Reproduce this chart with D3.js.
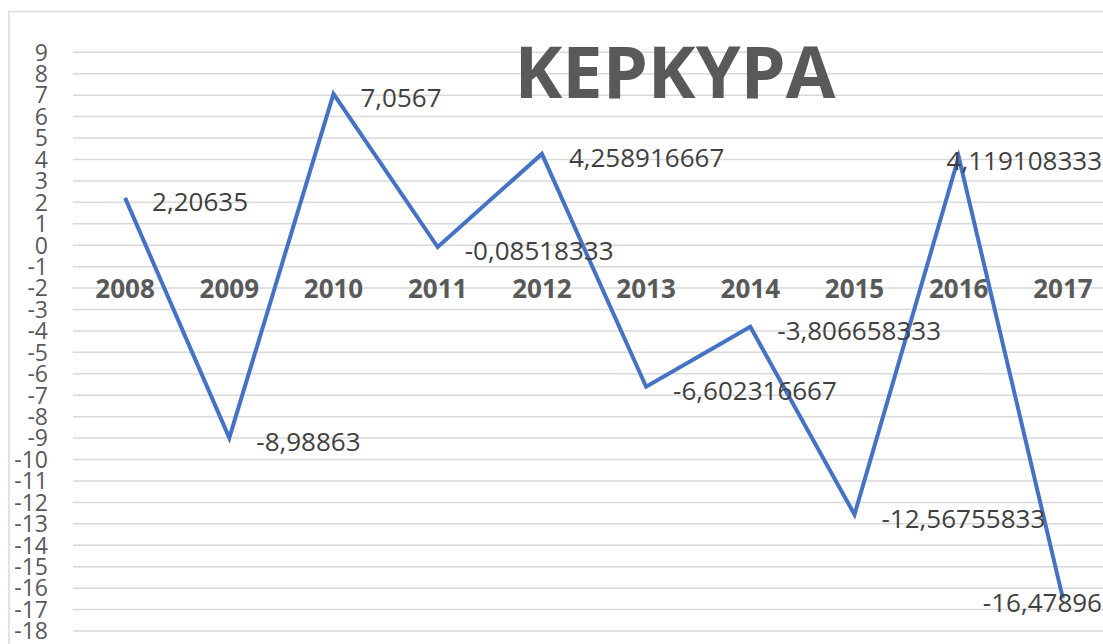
<!DOCTYPE html>
<html>
<head>
<meta charset="utf-8">
<script src="https://cdn.jsdelivr.net/npm/d3@7"></script>
<style>
  html, body { margin: 0; padding: 0; background: #ffffff; overflow: hidden; }
  svg { display: block; }
  text { font-family: "Open Sans", "Noto Sans", sans-serif; }
</style>
</head>
<body>
<svg id="chart" width="1103" height="644"></svg>
<script>
// Annual values per year
const years = ["2008", "2009", "2010", "2011", "2012", "2013", "2014", "2015", "2016", "2017"];
const values = [2.20635, -8.98863, 7.0567, -0.08518333, 4.258916667, -6.602316667, -3.806658333, -12.56755833, 4.119108333, -16.47896];
const valueLabels = ["2,20635", "-8,98863", "7,0567", "-0,08518333", "4,258916667", "-6,602316667", "-3,806658333", "-12,56755833", "4,119108333", "-16,47896"];
const yTicks = d3.range(-18, 10, 1);
const title = "ΚΕΡΚΥΡΑ";

const svg = d3.select("#chart");
const W = 1103, H = 644;

// Chart area frame
svg.append("rect")
  .attr("x", 9).attr("y", 11.5)
  .attr("width", W + 20).attr("height", H + 20)
  .attr("fill", "#ffffff")
  .attr("stroke", "#d9d9d9").attr("stroke-width", 1.5);

const x = d3.scaleBand().domain(years).range([73, 1115]).padding(0);
const y = d3.scaleLinear().domain([-18, 9]).range([631, 52.3]);
const cx = d => x(d) + x.bandwidth() / 2;

// Horizontal gridlines
svg.append("g").selectAll("line")
  .data(yTicks).join("line")
  .attr("x1", 73).attr("x2", 1115)
  .attr("y1", d => y(d)).attr("y2", d => y(d))
  .attr("stroke", "#d9d9d9").attr("stroke-width", 1.5);

// Value axis labels
const yAxis = d3.axisLeft(y).tickValues(yTicks).tickSize(0).tickPadding(0).tickFormat(d3.format("d"));
const yg = svg.append("g").attr("transform", "translate(48,0)").call(yAxis);
yg.select(".domain").remove();
yg.selectAll("text")
  .attr("font-family", "Open Sans, sans-serif")
  .attr("font-size", 23)
  .attr("fill", "#595959")
  .attr("dy", "0.34em")
  .text(d => String(d));

// Title
svg.append("text")
  .attr("x", 675).attr("y", 98)
  .attr("text-anchor", "middle")
  .attr("font-size", 72)
  .attr("font-weight", 700)
  .attr("fill", "#595959")
  .text(title);

// Category labels below the zero line
const xAxis = d3.axisBottom(x).tickSize(0).tickPadding(0);
const xg = svg.append("g").attr("transform", `translate(0,${y(0)})`).call(xAxis);
xg.select(".domain").remove();
xg.selectAll("text")
  .attr("font-family", "Open Sans, sans-serif")
  .attr("font-size", 26)
  .attr("font-weight", 700)
  .attr("fill", "#595959")
  .attr("dy", null)
  .attr("y", 53);

// Series line
const line = d3.line()
  .x((d, i) => cx(years[i]))
  .y(d => y(d));
svg.append("path")
  .datum(values)
  .attr("d", line)
  .attr("fill", "none")
  .attr("stroke", "#4472c4")
  .attr("stroke-width", 4)
  .attr("stroke-linejoin", "miter");

// Data labels, right of each point, kept inside the frame
const rightLimit = 1102;
const labels = svg.append("g").selectAll("text")
  .data(values).join("text")
  .attr("x", (d, i) => cx(years[i]) + 27)
  .attr("y", d => y(d) + 13.3)
  .attr("font-size", 26)
  .attr("fill", "#404040")
  .text((d, i) => valueLabels[i]);
labels.each(function() {
  const t = d3.select(this);
  const w = this.getComputedTextLength();
  const x0 = +t.attr("x");
  if (x0 + w > rightLimit) t.attr("x", rightLimit - w);
});
</script>
</body>
</html>
